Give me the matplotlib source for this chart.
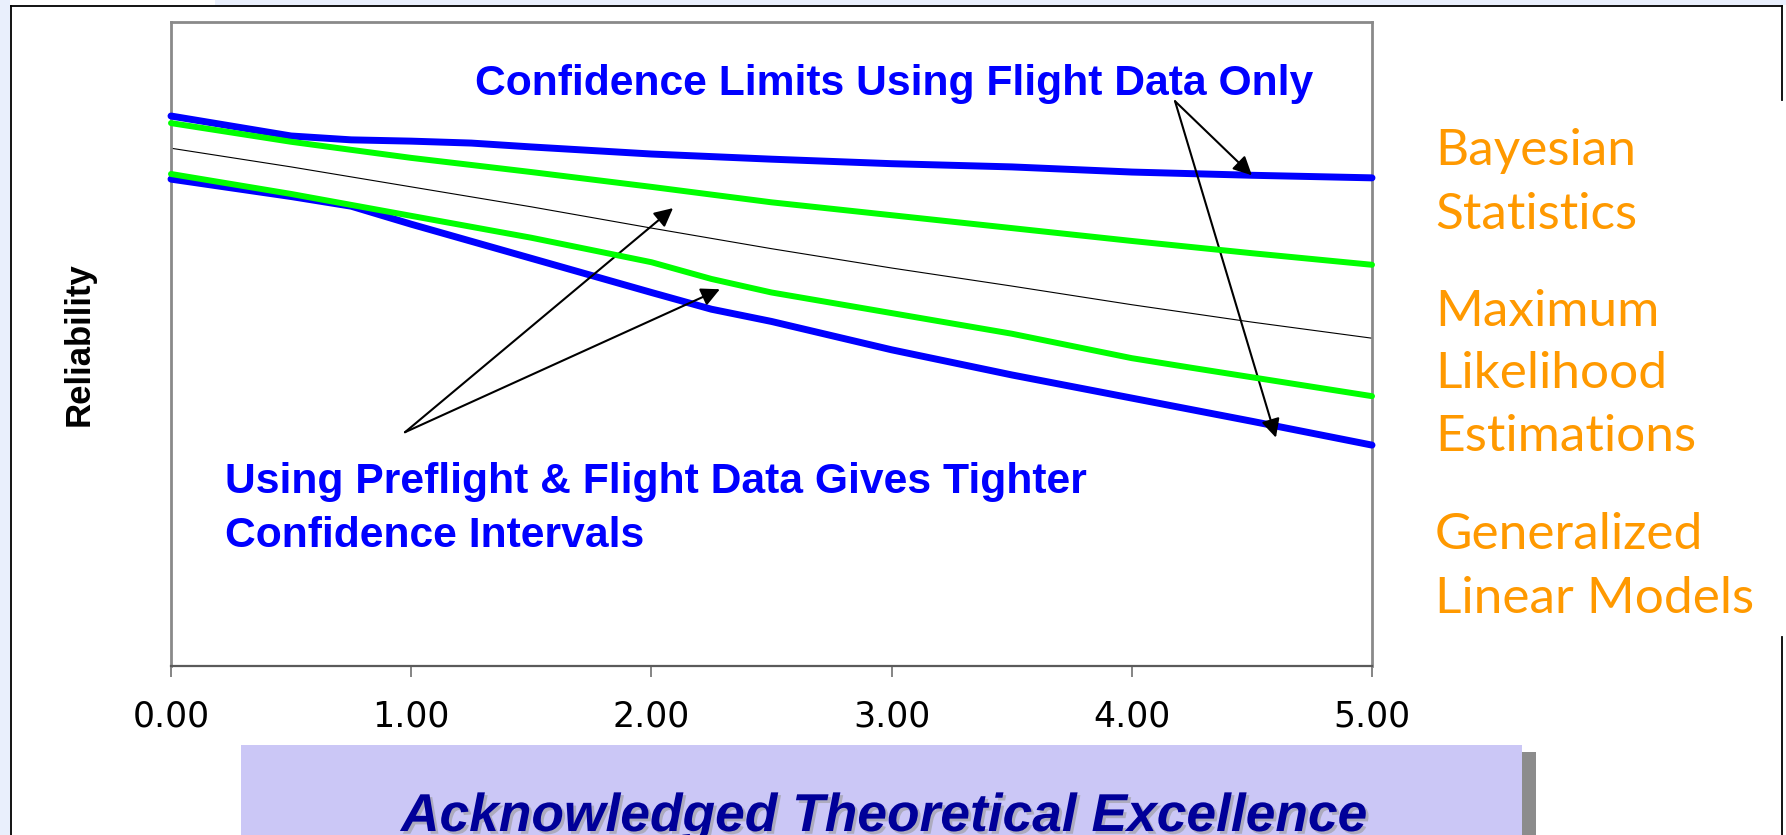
import numpy as np
import matplotlib
matplotlib.use('Agg')
import matplotlib.pyplot as plt
import matplotlib.patheffects as pe
from matplotlib.patches import Rectangle
from matplotlib.lines import Line2D
from matplotlib.transforms import Affine2D

W, H = 1786, 835

# confidence bounds vs. time (reliability, arbitrary scale 0..1)
x_flight_hi = [0, 0.5, 0.75, 1.0, 1.25, 1.5, 2.0, 2.5, 3.0, 3.5, 4.0, 4.5, 5.0]
flight_hi = [0.854, 0.823, 0.817, 0.815, 0.812, 0.806, 0.795, 0.787, 0.780, 0.775, 0.767, 0.762, 0.758]

x_flight_lo = [0, 0.5, 0.75, 1.0, 1.5, 2.0, 2.25, 2.5, 3.0, 3.5, 4.0, 4.5, 5.0]
flight_lo = [0.756, 0.729, 0.714, 0.686, 0.633, 0.580, 0.554, 0.535, 0.491, 0.452, 0.416, 0.380, 0.343]

x_pre_hi = [0, 0.5, 1.0, 1.5, 2.0, 2.5, 3.0, 3.5, 4.0, 4.5, 5.0]
pre_hi = [0.843, 0.814, 0.789, 0.767, 0.744, 0.720, 0.700, 0.680, 0.660, 0.641, 0.623]

x_pre_lo = [0, 0.5, 1.0, 1.5, 2.0, 2.25, 2.5, 3.0, 3.5, 4.0, 4.25, 5.0]
pre_lo = [0.764, 0.733, 0.699, 0.665, 0.627, 0.601, 0.580, 0.548, 0.516, 0.478, 0.463, 0.419]

x_point = [0, 0.5, 1.0, 1.5, 2.0, 2.5, 3.0, 3.5, 4.0, 4.5, 5.0]
point_est = [0.804, 0.775, 0.744, 0.713, 0.680, 0.648, 0.618, 0.590, 0.561, 0.534, 0.509]

xticks = [0, 1, 2, 3, 4, 5]
methods = ['Bayesian', 'Statistics', 'Maximum', 'Likelihood', 'Estimations',
           'Generalized', 'Linear Models']
method_baselines = [165, 229, 326, 388, 451, 549, 613]

fig = plt.figure(figsize=(W / 100, H / 100), dpi=100)
fig.patch.set_facecolor('white')
# pixel coordinates, origin top-left
pix = Affine2D().scale(1 / W, -1 / H).translate(0, 1) + fig.transFigure

# slide background and frame
bg = '#E9EFFC'
fig.add_artist(Rectangle((0, 0), 10, H, transform=pix, color=bg, lw=0, zorder=0))
fig.add_artist(Rectangle((215, 0), W - 215, 5, transform=pix, color=bg, lw=0, zorder=0))
for xs, ys in [((11, 1782), (6, 6)), ((11, 11), (6, H)),
               ((1782, 1782), (6, 100)), ((1782, 1782), (637, H))]:
    fig.add_artist(Line2D(xs, ys, transform=pix, color='black', lw=1.3, zorder=1))

ax = fig.add_axes([171 / W, 1 - 666 / H, (1372 - 171) / W, (666 - 22) / H])
ax.set_xlim(0, 5)
ax.set_ylim(0, 1)

ax.plot(x_point, point_est, color='black', lw=0.8, zorder=2)
ax.plot(x_flight_hi, flight_hi, color='#0000FF', lw=5, solid_capstyle='round', zorder=3, clip_on=False)
ax.plot(x_flight_lo, flight_lo, color='#0000FF', lw=5, solid_capstyle='round', zorder=3, clip_on=False)
ax.plot(x_pre_hi, pre_hi, color='#00FF00', lw=4.3, solid_capstyle='round', zorder=4, clip_on=False)
ax.plot(x_pre_lo, pre_lo, color='#00FF00', lw=4.3, solid_capstyle='round', zorder=4, clip_on=False)

ax.set_xticks(xticks)
ax.set_xticklabels([f'{v:.2f}' for v in xticks], fontsize=25, family='DejaVu Sans')
ax.tick_params(axis='x', direction='out', length=8, width=1.2, color='#707070', pad=16)
ax.set_yticks([])
for side in ['left', 'top', 'right']:
    ax.spines[side].set_color('#8a8a8a')
    ax.spines[side].set_linewidth(2)
ax.spines['bottom'].set_color('#5a5a5a')
ax.spines['bottom'].set_linewidth(1.6)

ax.set_ylabel('Reliability', fontsize=25, fontweight='bold', family='Liberation Sans')
ax.yaxis.set_label_coords(-0.063, 0.5)

# callout arrows
arrow = dict(arrowstyle='-|>', color='black', lw=1.5, mutation_scale=28, shrinkA=0, shrinkB=0)
ax.annotate('', xy=(4.5, np.interp(4.5, x_flight_hi, flight_hi)), xytext=(4.18, 0.877),
            arrowprops=arrow, annotation_clip=False)
ax.annotate('', xy=(4.6, np.interp(4.6, x_flight_lo, flight_lo) - 0.018), xytext=(4.18, 0.877),
            arrowprops=arrow, annotation_clip=False)
ax.annotate('', xy=(2.09, 0.711), xytext=(0.974, 0.363), arrowprops=arrow)
ax.annotate('', xy=(2.285, 0.585), xytext=(0.974, 0.363), arrowprops=arrow)

blue_txt = dict(color='#0000FF', fontsize=30.7, fontweight='bold', family='Liberation Sans',
                va='baseline', ha='left', transform=pix)
fig.text(475, 95, 'Confidence Limits Using Flight Data Only', **blue_txt)
fig.text(225, 493, 'Using Preflight & Flight Data Gives Tighter', **blue_txt)
fig.text(225, 547, 'Confidence Intervals', **blue_txt)

for name, yb in zip(methods, method_baselines):
    fig.text(1435, yb, name, color='#FF9900', fontsize=37, family='Lato',
             va='baseline', ha='left', transform=pix)

# banner at the bottom
fig.add_artist(Rectangle((1522, 752), 14, H - 752, transform=pix, color='#8c8c8c', lw=0, zorder=1))
fig.add_artist(Rectangle((241, 745), 1522 - 241, H - 745, transform=pix, color='#CBC7F6', lw=0, zorder=2))
fig.text(401, 831, 'Acknowledged Theoretical Excellence', color='#000099', fontsize=38.4,
         fontweight='bold', style='italic', family='Liberation Sans', va='baseline', ha='left',
         transform=pix, zorder=3,
         path_effects=[pe.SimplePatchShadow(offset=(2, -2), shadow_rgbFace='#999999', alpha=0.6),
                       pe.Normal()])

fig.savefig('out.png', dpi=100)
